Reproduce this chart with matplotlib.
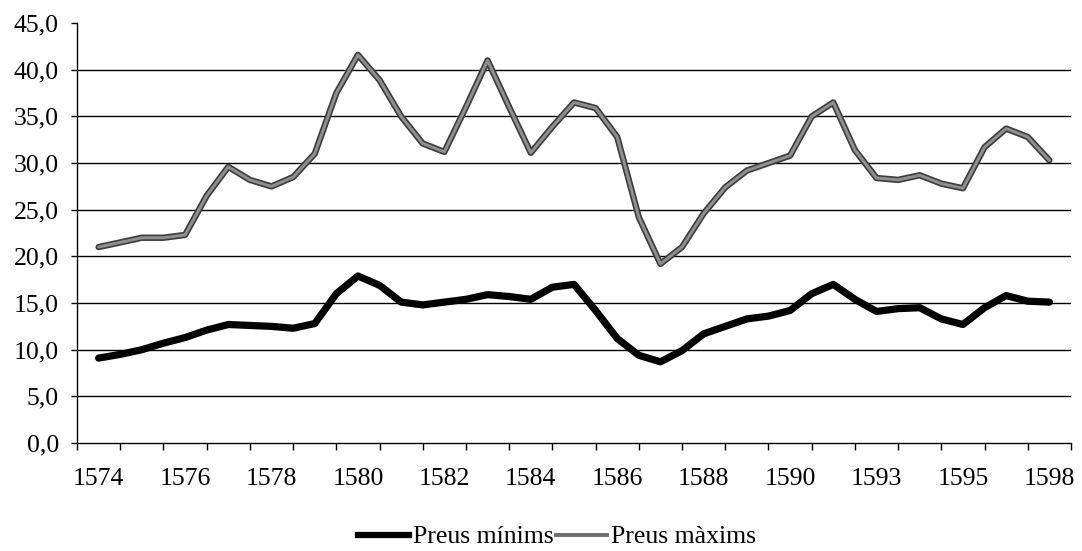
import matplotlib
matplotlib.use("Agg")
import matplotlib.pyplot as plt
import numpy as np
from matplotlib.lines import Line2D
from matplotlib.ticker import FixedLocator, FuncFormatter

# half-year readings, 1574 .. 1598 (23 categories on the axis)
preus_minims = [9.1, 9.5, 10.0, 10.7, 11.3, 12.1, 12.7, 12.6, 12.5, 12.3, 12.8,
                16.0, 17.9, 16.9, 15.1, 14.8, 15.1, 15.4, 15.9, 15.7, 15.4, 16.7,
                17.0, 14.2, 11.2, 9.4, 8.7, 9.9, 11.7, 12.5, 13.3, 13.6, 14.2,
                16.0, 17.0, 15.4, 14.1, 14.4, 14.5, 13.3, 12.7, 14.5, 15.8, 15.2, 15.1]
preus_maxims = [21.0, 21.5, 22.0, 22.0, 22.3, 26.5, 29.6, 28.2, 27.5, 28.5, 31.0,
                37.5, 41.6, 38.9, 35.0, 32.1, 31.2, 36.0, 41.0, 36.0, 31.1, 33.9,
                36.5, 35.9, 32.8, 24.2, 19.2, 21.0, 24.6, 27.4, 29.2, 30.0, 30.8,
                35.0, 36.5, 31.4, 28.4, 28.2, 28.7, 27.8, 27.3, 31.7, 33.7, 32.8, 30.3]
tick_years = ["1574", "1576", "1578", "1580", "1582", "1584", "1586",
              "1588", "1590", "1593", "1595", "1598"]
n_categories = 23

plt.rcParams["font.family"] = ["Liberation Serif", "DejaVu Serif"]
plt.rcParams["font.size"] = 18.5

fig = plt.figure(figsize=(10.82, 5.51), dpi=100)
ax = fig.add_axes([0.0712, 0.196, 0.9186, 0.762])

x = np.arange(len(preus_minims)) / 2
ax.plot(x, preus_maxims, color="#3c3c3c", lw=4.6, solid_joinstyle="round",
        solid_capstyle="round", zorder=3)
ax.plot(x, preus_maxims, color="#8e8e8e", lw=2.2, solid_joinstyle="round",
        solid_capstyle="round", zorder=4)
ax.plot(x, preus_minims, color="black", lw=5.2, solid_joinstyle="round",
        solid_capstyle="round", zorder=5)

ax.set_xlim(-0.5, n_categories - 0.5)
ax.set_ylim(0, 45)

# y axis
ax.set_yticks(np.arange(0, 46, 5))
ax.yaxis.set_major_formatter(FuncFormatter(lambda v, _: f"{v:.1f}".replace(".", ",")))
for v in np.arange(5, 41, 5):
    ax.axhline(v, color="black", lw=1.0, zorder=1)
ax.tick_params(axis="y", direction="out", length=4, width=1, pad=9)

# x axis: marks on category edges, labels on every other category
ax.xaxis.set_major_locator(FixedLocator(range(0, n_categories, 2)))
ax.set_xticklabels(tick_years)
ax.xaxis.set_minor_locator(FixedLocator(np.arange(-0.5, n_categories, 1)))
ax.tick_params(axis="x", which="major", length=0, pad=18)
ax.tick_params(axis="x", which="minor", direction="out", length=5, width=1)

for side in ("top", "right"):
    ax.spines[side].set_visible(False)
for side in ("left", "bottom"):
    ax.spines[side].set_linewidth(1.0)

handles = [Line2D([], [], color="black", lw=4.5),
           Line2D([], [], color="#6e6e6e", lw=2.8)]
fig.legend(handles, ["Preus mínims", "Preus màxims"], loc="center",
           bbox_to_anchor=(557 / 1082, 1 - 537 / 551), ncol=2, frameon=False,
           handlelength=2.0, handletextpad=0.15, columnspacing=0.1,
           borderaxespad=0)

fig.savefig("out.png", dpi=100)
